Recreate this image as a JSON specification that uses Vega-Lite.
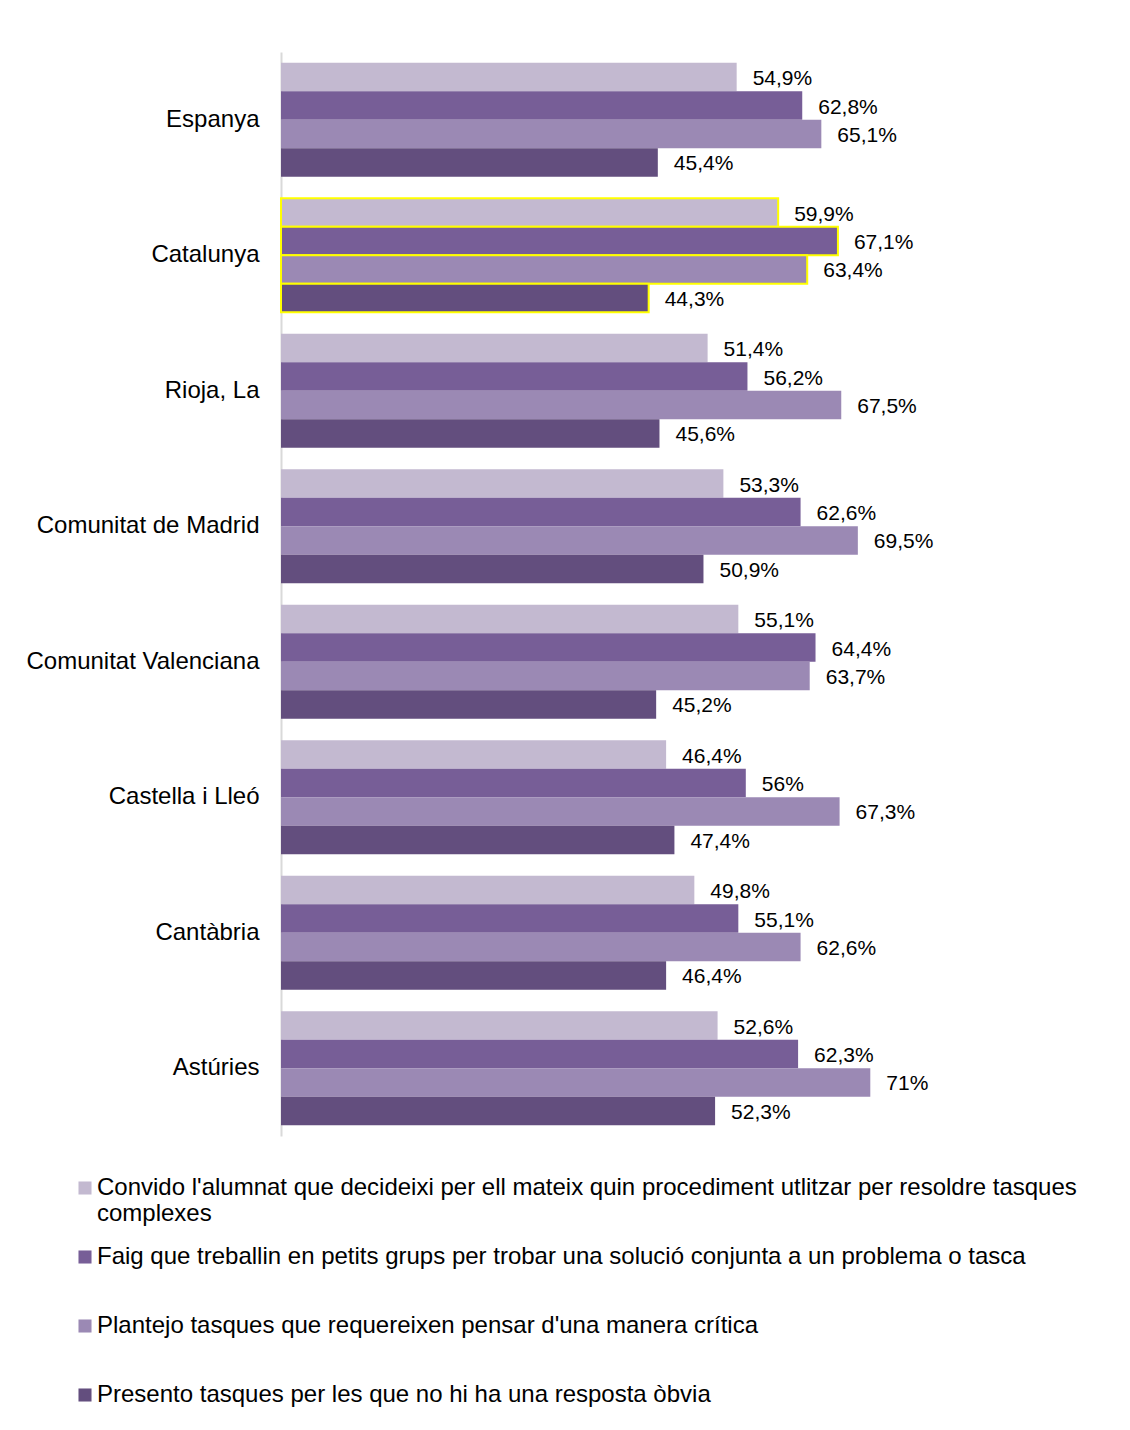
{
  "$schema": "https://vega.github.io/schema/vega-lite/v6.json",
  "autosize": "none",
  "padding": {"left": 281, "top": 52, "right": 19, "bottom": 294},
  "width": 830,
  "height": 1084,
  "background": "white",
  "config": {
    "font": "Liberation Sans",
    "view": {"stroke": null},
    "locale": {"number": {"decimal": ",", "thousands": ".", "grouping": [3], "currency": ["", " €"]}}
  },
  "data": {
    "values": [
      {"regio": "Espanya", "item": "Convido l'alumnat que decideixi per ell mateix quin procediment utlitzar per resoldre tasques complexes", "valor": 0.549},
      {"regio": "Espanya", "item": "Faig que treballin en petits grups per trobar una solució conjunta a un problema o tasca", "valor": 0.628},
      {"regio": "Espanya", "item": "Plantejo tasques que requereixen pensar d'una manera crítica", "valor": 0.651},
      {"regio": "Espanya", "item": "Presento tasques per les que no hi ha una resposta òbvia", "valor": 0.454},
      {"regio": "Catalunya", "item": "Convido l'alumnat que decideixi per ell mateix quin procediment utlitzar per resoldre tasques complexes", "valor": 0.599},
      {"regio": "Catalunya", "item": "Faig que treballin en petits grups per trobar una solució conjunta a un problema o tasca", "valor": 0.671},
      {"regio": "Catalunya", "item": "Plantejo tasques que requereixen pensar d'una manera crítica", "valor": 0.634},
      {"regio": "Catalunya", "item": "Presento tasques per les que no hi ha una resposta òbvia", "valor": 0.443},
      {"regio": "Rioja, La", "item": "Convido l'alumnat que decideixi per ell mateix quin procediment utlitzar per resoldre tasques complexes", "valor": 0.514},
      {"regio": "Rioja, La", "item": "Faig que treballin en petits grups per trobar una solució conjunta a un problema o tasca", "valor": 0.562},
      {"regio": "Rioja, La", "item": "Plantejo tasques que requereixen pensar d'una manera crítica", "valor": 0.675},
      {"regio": "Rioja, La", "item": "Presento tasques per les que no hi ha una resposta òbvia", "valor": 0.456},
      {"regio": "Comunitat de Madrid", "item": "Convido l'alumnat que decideixi per ell mateix quin procediment utlitzar per resoldre tasques complexes", "valor": 0.533},
      {"regio": "Comunitat de Madrid", "item": "Faig que treballin en petits grups per trobar una solució conjunta a un problema o tasca", "valor": 0.626},
      {"regio": "Comunitat de Madrid", "item": "Plantejo tasques que requereixen pensar d'una manera crítica", "valor": 0.695},
      {"regio": "Comunitat de Madrid", "item": "Presento tasques per les que no hi ha una resposta òbvia", "valor": 0.509},
      {"regio": "Comunitat Valenciana", "item": "Convido l'alumnat que decideixi per ell mateix quin procediment utlitzar per resoldre tasques complexes", "valor": 0.551},
      {"regio": "Comunitat Valenciana", "item": "Faig que treballin en petits grups per trobar una solució conjunta a un problema o tasca", "valor": 0.644},
      {"regio": "Comunitat Valenciana", "item": "Plantejo tasques que requereixen pensar d'una manera crítica", "valor": 0.637},
      {"regio": "Comunitat Valenciana", "item": "Presento tasques per les que no hi ha una resposta òbvia", "valor": 0.452},
      {"regio": "Castella i Lleó", "item": "Convido l'alumnat que decideixi per ell mateix quin procediment utlitzar per resoldre tasques complexes", "valor": 0.464},
      {"regio": "Castella i Lleó", "item": "Faig que treballin en petits grups per trobar una solució conjunta a un problema o tasca", "valor": 0.56},
      {"regio": "Castella i Lleó", "item": "Plantejo tasques que requereixen pensar d'una manera crítica", "valor": 0.673},
      {"regio": "Castella i Lleó", "item": "Presento tasques per les que no hi ha una resposta òbvia", "valor": 0.474},
      {"regio": "Cantàbria", "item": "Convido l'alumnat que decideixi per ell mateix quin procediment utlitzar per resoldre tasques complexes", "valor": 0.498},
      {"regio": "Cantàbria", "item": "Faig que treballin en petits grups per trobar una solució conjunta a un problema o tasca", "valor": 0.551},
      {"regio": "Cantàbria", "item": "Plantejo tasques que requereixen pensar d'una manera crítica", "valor": 0.626},
      {"regio": "Cantàbria", "item": "Presento tasques per les que no hi ha una resposta òbvia", "valor": 0.464},
      {"regio": "Astúries", "item": "Convido l'alumnat que decideixi per ell mateix quin procediment utlitzar per resoldre tasques complexes", "valor": 0.526},
      {"regio": "Astúries", "item": "Faig que treballin en petits grups per trobar una solució conjunta a un problema o tasca", "valor": 0.623},
      {"regio": "Astúries", "item": "Plantejo tasques que requereixen pensar d'una manera crítica", "valor": 0.71},
      {"regio": "Astúries", "item": "Presento tasques per les que no hi ha una resposta òbvia", "valor": 0.523}
    ]
  },
  "encoding": {
    "y": {
      "field": "regio",
      "type": "nominal",
      "sort": null,
      "title": null,
      "scale": {"paddingInner": 0.16, "paddingOuter": 0.08},
      "axis": {
        "domainColor": "#d9d9d9",
        "domainWidth": 2,
        "ticks": false,
        "labelFontSize": 24,
        "labelColor": "#000000",
        "labelPadding": 22,
        "labelLimit": 300
      }
    },
    "yOffset": {
      "field": "item",
      "type": "nominal",
      "sort": null,
      "scale": {"paddingInner": 0, "paddingOuter": 0}
    },
    "x": {
      "field": "valor",
      "type": "quantitative",
      "scale": {"domain": [0, 1]},
      "axis": null
    }
  },
  "layer": [
    {
      "mark": {"type": "bar", "strokeWidth": 2},
      "encoding": {
        "color": {
          "field": "item",
          "type": "nominal",
          "sort": null,
          "scale": {"range": ["#C3B9D0", "#775E97", "#9B89B4", "#634E7E"]},
          "legend": {
            "orient": "none",
            "legendX": -208,
            "legendY": 1124,
            "direction": "vertical",
            "title": null,
            "symbolType": "square",
            "symbolSize": 170,
            "symbolStrokeWidth": 0,
            "labelFontSize": 24,
            "labelColor": "#000000",
            "labelOffset": 0,
            "labelLimit": 1100,
            "rowPadding": 19,
            "labelExpr": "indexof(datum.label, 'Convido') === 0 ? ['Convido l\\'alumnat que decideixi per ell mateix quin procediment utlitzar per resoldre tasques', 'complexes'] : [datum.label, '']"
          }
        },
        "stroke": {
          "condition": {"test": "datum.regio === 'Catalunya'", "value": "#FFFF00"},
          "value": null
        }
      }
    },
    {
      "mark": {"type": "text", "align": "left", "baseline": "middle", "dx": 16, "dy": 2, "fontSize": 21, "color": "#000000"},
      "encoding": {
        "text": {"field": "valor", "type": "quantitative", "format": ".1~%"}
      }
    }
  ]
}
